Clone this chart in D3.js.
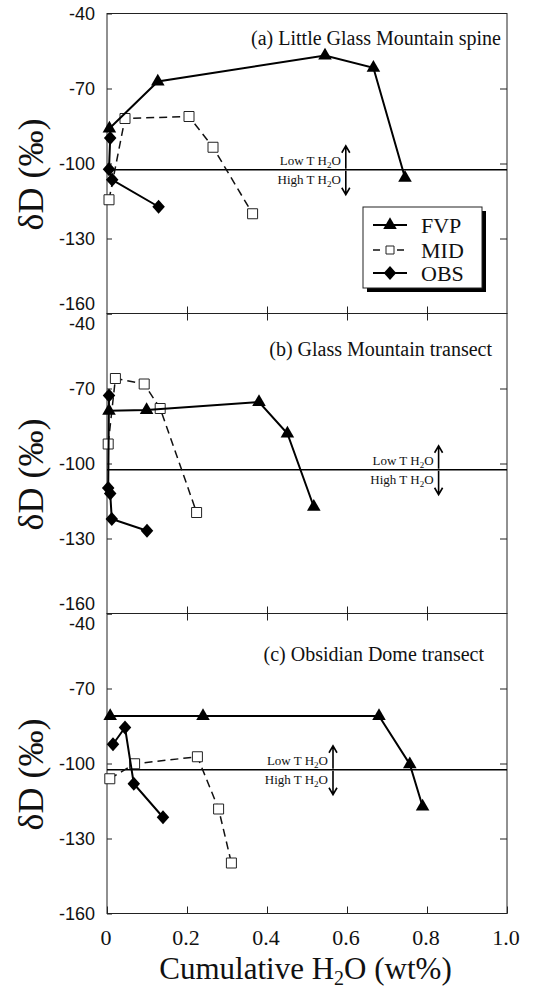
<!DOCTYPE html>
<html>
<head>
<meta charset="utf-8">
<script src="https://cdn.jsdelivr.net/npm/d3@7"></script>
<style>
  body { margin: 0; background: #fff; }
  svg { display: block; }
  .serif { font-family: "Liberation Serif", "Times New Roman", serif; }
  .sans { font-family: "Liberation Sans", Arial, sans-serif; }
</style>
</head>
<body>
<div id="chart"></div>
<script>
// values: [cumulative H2O wt%, dD permil]
const xTicks = [0, 0.2, 0.4, 0.6, 0.8, 1.0];
const yTicks = [-40, -70, -100, -130, -160];
const seriesNames = ["FVP", "MID", "OBS"];
const panelTitles = ["(a) Little Glass Mountain spine", "(b) Glass Mountain transect", "(c) Obsidian Dome transect"];
const boundaryD = -102.5;            // low T / high T water
const arrowX = [0.597, 0.829, 0.565]; // where the up/down arrows sit

const fvpA = [[0.006, -86], [0.127, -67.2], [0.545, -56.8], [0.666, -61.7], [0.745, -105.7]];
const midA = [[0.005, -114.5], [0.045, -82], [0.205, -81.2], [0.265, -93.5], [0.364, -120.1]];
const obsA = [[0.008, -89.8], [0.005, -102.3], [0.013, -106.5], [0.129, -117.3]];

const fvpB = [[0.005, -78.9], [0.099, -78.6], [0.38, -75.4], [0.451, -88], [0.517, -117.3]];
const midB = [[0.003, -92.2], [0.021, -66], [0.093, -68.2], [0.133, -78], [0.224, -119.6]];
const obsB = [[0.005, -72.8], [0.003, -109.8], [0.008, -112], [0.012, -122.2], [0.10, -126.9]];

const fvpC = [[0.008, -81], [0.24, -81], [0.68, -81], [0.757, -100.3], [0.789, -117.2]];
const midC = [[0.007, -106.1], [0.069, -100.1], [0.226, -97.3], [0.279, -118.2], [0.311, -139.8]];
const obsC = [[0.015, -92.3], [0.045, -85.6], [0.067, -108.1], [0.14, -121.5]];

const panels = [
  {fvp: fvpA, mid: midA, obs: obsA},
  {fvp: fvpB, mid: midB, obs: obsB},
  {fvp: fvpC, mid: midC, obs: obsC}
];

// layout
const W = 535, H = 992;
const x0 = 107, x1 = 507;
const panelTop = [13.5, 313.5, 613.5];
const panelH = 300;
const titleY = [45, 356, 661];
const titleRight = [501, 492, 484];

const svg = d3.select("#chart").append("svg")
  .attr("width", W).attr("height", H);

const x = d3.scaleLinear().domain([0, 1]).range([x0, x1]);

// diamond a bit fatter than d3's own
const diamond = {
  draw(ctx, size) {
    const w = Math.sqrt(size) * 0.52, h = Math.sqrt(size) * 0.58;
    ctx.moveTo(0, -h); ctx.lineTo(w, 0); ctx.lineTo(0, h); ctx.lineTo(-w, 0); ctx.closePath();
  }
};
const triPath = d3.symbol(d3.symbolTriangle, 80)();
const sqPath = d3.symbol(d3.symbolSquare, 100)();
const diaPath = d3.symbol(diamond, 145)();

panels.forEach((p, i) => {
  const top = panelTop[i];
  const y = d3.scaleLinear().domain([-160, -40]).range([top + panelH, top]);
  const g = svg.append("g");

  // left axis with labels
  const left = g.append("g")
    .attr("transform", `translate(${x0},0)`)
    .call(d3.axisLeft(y).tickValues(yTicks).tickSize(-5).tickPadding(12).tickFormat(d => String(d)));
  left.select(".domain").remove();
  left.selectAll(".tick text")
    .attr("class", "sans").style("font-size", "18px").attr("fill", "#111")
    .attr("transform", d => {
      if (d === -40 && i > 0) return "translate(0,10)";
      if (d === -160 && i < 2) return "translate(0,-10)";
      return null;
    });

  // right ticks
  const right = g.append("g")
    .attr("transform", `translate(${x1},0)`)
    .call(d3.axisRight(y).tickValues([-70, -100, -130]).tickSize(-7).tickFormat(""));
  right.select(".domain").remove();

  // bottom ticks (labels on the last panel only)
  const bottom = g.append("g")
    .attr("transform", `translate(0,${top + panelH})`)
    .call(d3.axisBottom(x).tickValues(i === 2 ? xTicks : xTicks.slice(1, 5))
      .tickSize(-7).tickPadding(16)
      .tickFormat(i === 2 ? (d => d === 0 ? "0" : d.toFixed(1)) : ""));
  bottom.select(".domain").remove();
  bottom.selectAll(".tick text")
    .attr("class", "serif").style("font-size", "22px").attr("fill", "#111").attr("dx", -1.5);

  if (i > 0) {
    const topAx = g.append("g")
      .attr("transform", `translate(0,${top})`)
      .call(d3.axisTop(x).tickValues(xTicks.slice(1, 5)).tickSize(-7).tickFormat(""));
    topAx.select(".domain").remove();
  }
  g.selectAll(".tick line").attr("stroke", "#222");

  // frame
  g.append("rect")
    .attr("x", x0).attr("y", top).attr("width", x1 - x0).attr("height", panelH)
    .attr("fill", "none").attr("stroke", "#222").attr("stroke-width", 1);

  // low / high T boundary
  const ly = y(boundaryD);
  g.append("line")
    .attr("x1", x0).attr("x2", x1).attr("y1", ly).attr("y2", ly)
    .attr("stroke", "#000").attr("stroke-width", 1.6);

  const ax = x(arrowX[i]);
  [["Low T H", ly - 5], ["High T H", ly + 14]].forEach(([lab, ty]) => {
    const t = g.append("text").attr("class", "serif").style("font-size", "13px").attr("fill", "#111")
      .attr("x", ax - 5).attr("y", ty).attr("text-anchor", "end");
    t.append("tspan").text(lab);
    t.append("tspan").style("font-size", "9px").attr("dy", 3).text("2");
    t.append("tspan").attr("dy", -3).text("O");
  });
  g.append("path")
    .attr("d", `M${ax},${ly - 1}V${ly - 24}M${ax - 4},${ly - 17}L${ax},${ly - 24}L${ax + 4},${ly - 17}` +
               `M${ax},${ly + 1}V${ly + 25}M${ax - 4},${ly + 18}L${ax},${ly + 25}L${ax + 4},${ly + 18}`)
    .attr("fill", "none").attr("stroke", "#000").attr("stroke-width", 1.6);

  // series
  const line = d3.line().x(d => x(d[0])).y(d => y(d[1]));

  g.append("path").datum(p.mid).attr("d", line)
    .attr("fill", "none").attr("stroke", "#111").attr("stroke-width", 1.5).attr("stroke-dasharray", "8,5");
  g.selectAll(".mid").data(p.mid).join("path").attr("class", "mid")
    .attr("d", sqPath).attr("transform", d => `translate(${x(d[0])},${y(d[1])})`)
    .attr("fill", "#fff").attr("stroke", "#222").attr("stroke-width", 1);

  g.append("path").datum(p.fvp).attr("d", line)
    .attr("fill", "none").attr("stroke", "#000").attr("stroke-width", 2);
  g.append("path").datum(p.obs).attr("d", line)
    .attr("fill", "none").attr("stroke", "#000").attr("stroke-width", 2);

  g.selectAll(".obs").data(p.obs).join("path").attr("class", "obs")
    .attr("d", diaPath).attr("transform", d => `translate(${x(d[0])},${y(d[1])})`)
    .attr("fill", "#000");
  g.selectAll(".fvp").data(p.fvp).join("path").attr("class", "fvp")
    .attr("d", triPath).attr("transform", d => `translate(${x(d[0])},${y(d[1])})`)
    .attr("fill", "#000");

  // panel title
  g.append("text").attr("class", "serif")
    .attr("x", titleRight[i]).attr("y", titleY[i]).attr("text-anchor", "end")
    .style("font-size", "20px").attr("fill", "#111")
    .text(panelTitles[i]);

  // y label
  g.append("text").attr("class", "serif")
    .attr("transform", `translate(43,${top + 161}) rotate(-90)`)
    .attr("text-anchor", "middle")
    .style("font-size", "36px").attr("fill", "#111")
    .text("δD (‰)");
});

// legend (panel a)
const lg = svg.append("g");
const lx = 363, ly0 = 207, lw = 119, lh = 81;
lg.append("rect").attr("x", lx + 4).attr("y", ly0 + 4).attr("width", lw).attr("height", lh).attr("fill", "#000");
lg.append("rect").attr("x", lx).attr("y", ly0).attr("width", lw).attr("height", lh)
  .attr("fill", "#fff").attr("stroke", "#222").attr("stroke-width", 1);
const legY = [225, 250, 273];
seriesNames.forEach((name, k) => {
  const yy = legY[k];
  if (k === 1) {
    lg.append("line").attr("x1", 373).attr("x2", 404).attr("y1", yy).attr("y2", yy)
      .attr("stroke", "#111").attr("stroke-width", 1.5).attr("stroke-dasharray", "7,17,7");
    lg.append("path").attr("d", d3.symbol(d3.symbolSquare, 64)()).attr("transform", `translate(390,${yy})`)
      .attr("fill", "#fff").attr("stroke", "#222");
  } else {
    lg.append("line").attr("x1", 373).attr("x2", 407).attr("y1", yy).attr("y2", yy)
      .attr("stroke", "#000").attr("stroke-width", 2);
    lg.append("path").attr("d", k === 0 ? triPath : diaPath).attr("transform", `translate(390,${yy})`)
      .attr("fill", "#000");
  }
  lg.append("text").attr("class", "serif").style("font-size", "22px").attr("fill", "#111")
    .attr("x", 421).attr("y", yy + 7.5).text(name);
});

// x label
const xl = svg.append("text").attr("class", "serif")
  .attr("x", 305.5).attr("y", 979).attr("text-anchor", "middle")
  .style("font-size", "31px").attr("fill", "#111");
xl.append("tspan").text("Cumulative H");
xl.append("tspan").style("font-size", "20px").attr("dy", 6).text("2");
xl.append("tspan").attr("dy", -6).text("O (wt%)");
</script>
</body>
</html>
